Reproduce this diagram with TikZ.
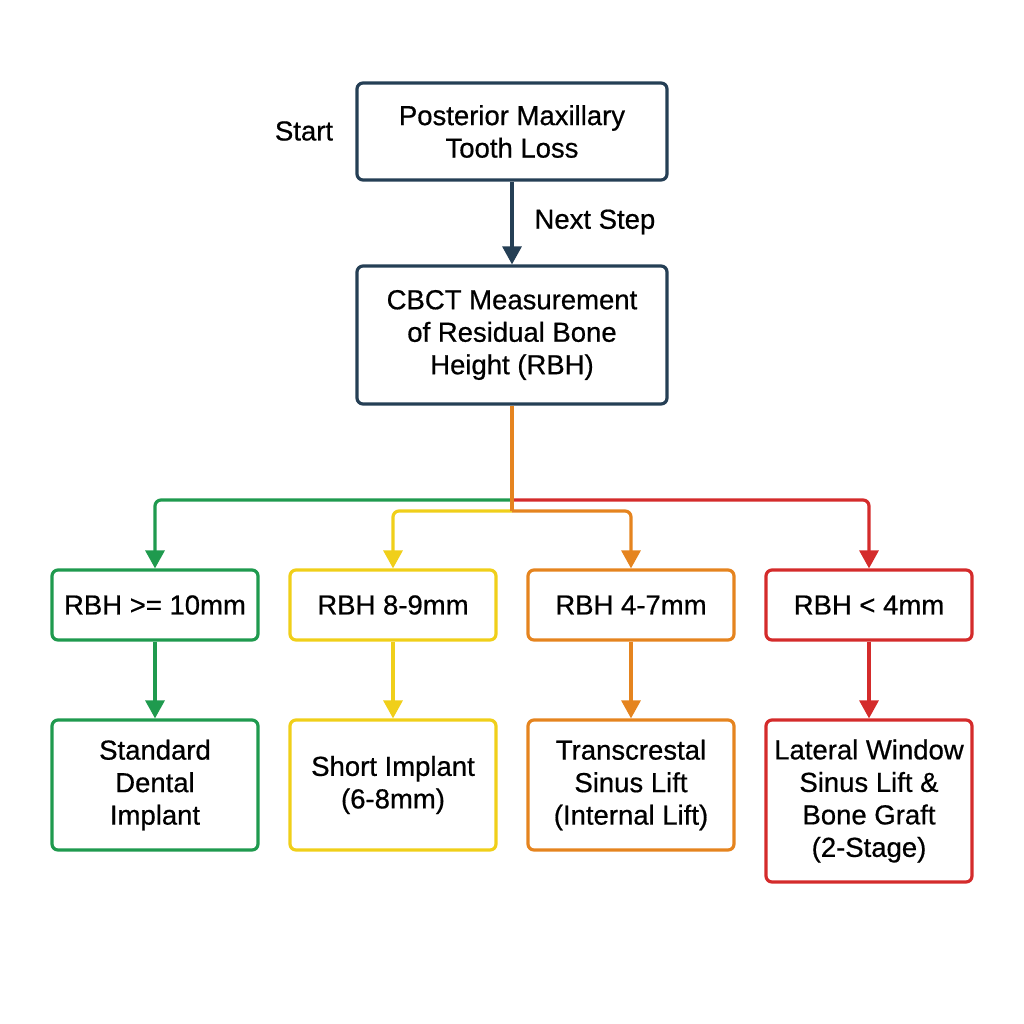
\documentclass[tikz,border=0pt]{standalone}
\usepackage{fontspec}
\setmainfont{Liberation Sans}
\newfontfamily\medfont{Liberation Sans}[FakeBold=0.6]
\usetikzlibrary{arrows.meta}
\definecolor{navy}{HTML}{253F55}
\definecolor{cgreen}{HTML}{1F9A4E}
\definecolor{cyellow}{HTML}{F0CF1A}
\definecolor{corange}{HTML}{E5841F}
\definecolor{cred}{HTML}{D42B2B}
\tikzset{
  box/.style={draw=#1, line width=3.2pt, rounded corners=6pt, align=center, inner sep=2pt,
    font=\medfont\fontsize{27.5}{32.5}\selectfont, text=black},
  conn/.style={draw=#1, line width=3.2pt, rounded corners=6pt, -{Triangle[width=19pt,length=18pt]}},
  plain/.style={draw=#1, line width=3.2pt, rounded corners=6pt},
  lbl/.style={font=\medfont\fontsize{27.5}{32.5}\selectfont, text=black},
}
\begin{document}
\begin{tikzpicture}[x=1pt,y=-1pt]
\useasboundingbox (0,0) rectangle (1024,1024);
\node[box=navy, minimum width=310pt, minimum height=97pt] (top) at (512,131.5) {Posterior Maxillary\\Tooth Loss};
\node[box=navy, minimum width=310pt, minimum height=138pt] (cbct) at (512,335) {CBCT Measurement\\of Residual Bone\\ Height (RBH)};
\node[lbl] (start) at (304,131) {Start};
\node[lbl, anchor=west] (next) at (531,222) {Next Step};
\draw[conn=navy] (top.south) -- (cbct.north);

\node[box=cgreen, minimum width=206pt, minimum height=70pt] (r1) at (155,605) {RBH >= 10mm};
\node[box=cyellow, minimum width=206pt, minimum height=70pt] (r2) at (393,605) {RBH 8-9mm};
\node[box=corange, minimum width=206pt, minimum height=70pt] (r3) at (631,605) {RBH 4-7mm};
\node[box=cred, minimum width=206pt, minimum height=70pt] (r4) at (869,605) {RBH < 4mm};

\node[box=cgreen, minimum width=206pt, minimum height=130pt] (t1) at (155,785) {Standard\\Dental\\Implant};
\node[box=cyellow, minimum width=206pt, minimum height=130pt] (t2) at (393,785) {Short Implant\\(6-8mm)};
\node[box=corange, minimum width=206pt, minimum height=130pt] (t3) at (631,785) {Transcrestal\\Sinus Lift\\(Internal Lift)};
\node[box=cred, minimum width=206pt, minimum height=162pt] (t4) at (869,801) {Lateral Window\\Sinus Lift \&\\Bone Graft\\(2-Stage)};

\coordinate (j1) at (512,500);
\coordinate (j2) at (512,511);
\draw[conn=cgreen] (j1) -| (r1.north);
\draw[conn=cred] (j1) -| (r4.north);
\draw[conn=cyellow] (j2) -| (r2.north);
\draw[conn=corange] (j2) -| (r3.north);
\draw[plain=corange, rounded corners=0pt] (cbct.south) -- (j2);

\draw[conn=cgreen] (r1.south) -- (t1.north);
\draw[conn=cyellow] (r2.south) -- (t2.north);
\draw[conn=corange] (r3.south) -- (t3.north);
\draw[conn=cred] (r4.south) -- (t4.north);
\end{tikzpicture}
\end{document}
